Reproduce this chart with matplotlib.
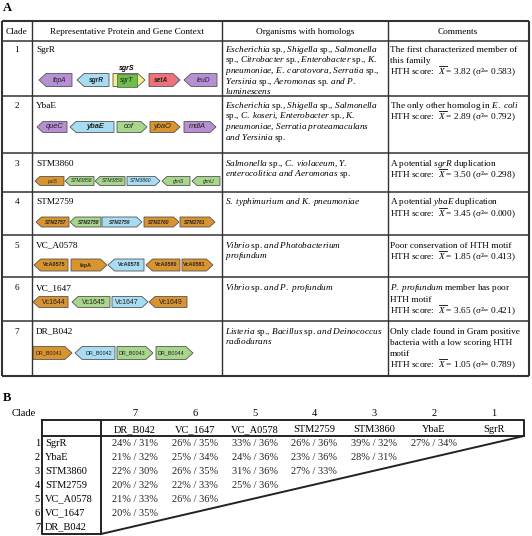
import matplotlib
matplotlib.use("Agg")
import matplotlib.pyplot as plt
from matplotlib.patches import Polygon, Rectangle

plt.rcParams['mathtext.fontset'] = 'custom'
plt.rcParams['mathtext.rm'] = 'Liberation Serif'
plt.rcParams['mathtext.it'] = 'Liberation Serif:italic'
plt.rcParams['mathtext.bf'] = 'Liberation Serif:bold'
SERIF = 'Liberation Serif'
SANS = 'Liberation Sans'

# ---------------- panel A data ----------------
clades = ['1', '2', '3', '4', '5', '6', '7']
proteins = ['SgrR', 'YbaE', 'STM3860', 'STM2759', 'VC_A0578', 'VC_1647', 'DR_B042']

# '*' toggles italics
organisms = [
    ["*Escherichia* sp., *Shigella* sp., *Salmonella*",
     "sp., *Citrobacter* sp., *Enterobacter* sp., *K.*",
     "*pneumoniae, E. carotovora, Serratia* sp.,",
     "*Yersinia* sp., *Aeromonas* sp. *and P.*",
     "*luminescens*"],
    ["*Escherichia* sp., *Shigella* sp., *Salmonella*",
     "sp., *C. koseri, Enterobacter* sp., *K.*",
     "*pneumoniae, Serratia proteamaculans*",
     "*and Yersinia* sp."],
    ["*Salmonella* sp., *C. violaceum, Y.*",
     "*enterocolitica and Aeromonas* sp."],
    ["*S. typhimurium and K. pneumoniae*"],
    ["*Vibrio* sp. *and Photobacterium*", "*profundum*"],
    ["*Vibrio* sp. *and P. profundum*"],
    ["*Listeria* sp., *Bacillus* sp. *and Deinococcus*", "*radiodurans*"],
]

comments = [
    ["The first characterized member of", "this family"],
    ["The only other homolog in *E. coli*"],
    ["A potential *sgrR* duplication"],
    ["A potential *ybaE* duplication"],
    ["Poor conservation of HTH motif"],
    ["*P. profundum* member has poor", "HTH motif"],
    ["Only clade found in Gram positive", "bacteria with a low scoring HTH", "motif"],
]
hth_mean = [3.82, 2.89, 3.50, 3.45, 1.85, 3.65, 1.05]
hth_var = [0.583, 0.792, 0.298, 0.000, 0.413, 0.421, 0.789]

# gene context: (name, start, end, strand, family)
genes = [
    [('tbpA', 39, 72, -1, 'p'), ('sgrR', 77, 109, -1, 'b'), ('sgrT', 113, 145, 1, 'y'),
     ('setA', 149, 180, 1, 'r'), ('leuD', 184, 217, -1, 'p')],
    [('queC', 37, 67, -1, 'p'), ('ybaE', 70, 114, -1, 'b'), ('cof', 117, 147, 1, 'g'),
     ('ybaO', 150, 180, 1, 'o'), ('mdlA', 184, 216, 1, 'p')],
    [('pstS', 35, 64, -1, 'o'), ('STM3858', 65, 94, -1, 'g'), ('STM3859', 95, 125, -1, 'g'),
     ('STM3860', 127, 160, 1, 'b'), ('glmS', 162, 190, -1, 'g'), ('glmU', 192, 220, -1, 'g')],
    [('STM2757', 36, 69, -1, 'o'), ('STM2758', 70, 101, -1, 'g'), ('STM2759', 102, 142, 1, 'b'),
     ('STM2760', 144, 179, 1, 'o'), ('STM2761', 180, 215, 1, 'o')],
    [('VcA0575', 34, 68, -1, 'o'), ('fepA', 71, 107, 1, 'o'), ('VcA0578', 108, 144, -1, 'b'),
     ('VcA0580', 146, 180, -1, 'o'), ('VcA0581', 182, 213, 1, 'o')],
    [('Vc1644', 33, 68, -1, 'o'), ('Vc1645', 72, 110, -1, 'g'), ('Vc1647', 112, 148, 1, 'b'),
     ('Vc1649', 149, 187, -1, 'o')],
    [('DR_B0041', 33, 72, 1, 'o'), ('DR_B0042', 75, 115, -1, 'b'), ('DR_B0043', 117, 153, 1, 'g'),
     ('DR_B0044', 156, 193, 1, 'g')],
]

# ---------------- panel B data ----------------
b_names = ['SgrR', 'YbaE', 'STM3860', 'STM2759', 'VC_A0578', 'VC_1647', 'DR_B042']
# identity / similarity, rows = clade 1..6, columns = clade 7, 6, 5, ...
ident_a = [[24, 26, 33, 26, 39, 27],
           [21, 25, 24, 23, 28],
           [22, 26, 31, 27],
           [20, 22, 25],
           [21, 26],
           [20]]
ident_b = [[31, 35, 36, 36, 32, 34],
           [32, 34, 36, 36, 31],
           [30, 35, 36, 33],
           [32, 33, 36],
           [33, 36],
           [35]]

# ---------------- styling ----------------
fam_col = {'p': '#b690d2', 'b': '#a8dcf2', 'g': '#a8d68c', 'r': '#f0707c',
           'o': '#d99430', 'y': '#f4f08c'}
row_lines = [21, 41, 96, 153, 192, 235, 277, 321, 376]
col_lines = [2, 32, 222, 388, 529]
label_y = [48, 104, 162, 201, 244, 287, 330]
gene_y = [80, 127, 181, 222, 265, 302, 353]
gene_h = [13, 11, 9, 10, 12, 11, 13]
gene_fs = [4.8, 5.4, 3.6, 3.6, 3.9, 5.0, 3.9]
gene_st = ['italic', 'italic', 'italic', 'italic', 'normal', 'normal', 'normal']
bold_rows = [3, 4]
bold_genes = ['sgrR', 'setA', 'ybaE']
FS = 6.7
FSB = 7.5
LINE = 10.7
CLINE = 11.2

fig = plt.figure(figsize=(5.32, 5.36), dpi=100)
ax = fig.add_axes([0, 0, 1, 1])
ax.set_xlim(0, 532)
ax.set_ylim(536, 0)
ax.axis('off')
renderer = fig.canvas.get_renderer()


def to_math(s):
    parts = s.split('*')
    out = ''
    for i, p in enumerate(parts):
        if i % 2 and p:
            chunks = [r'$\mathit{' + c.replace(' ', r'\ ') + '}$' for c in p.split(', ')]
            out += ', '.join(chunks)
        else:
            out += p
    return out


def text_width(s):
    t = ax.text(0, 0, s, fontsize=FS, family=SERIF)
    w = t.get_window_extent(renderer).width
    t.remove()
    return w


def gene(x0, x1, yc, h, strand, fc):
    head = min(h * 0.55, (x1 - x0) * 0.4)
    top, bot = yc - h / 2, yc + h / 2
    if strand > 0:
        pts = [(x0, top), (x1 - head, top), (x1, yc), (x1 - head, bot), (x0, bot)]
    else:
        pts = [(x1, top), (x0 + head, top), (x0, yc), (x0 + head, bot), (x1, bot)]
    ax.add_patch(Polygon(pts, closed=True, fc=fc, ec='#555555', lw=0.6))
    return head


ax.text(3, 8, 'A', fontsize=9, family=SERIF, weight='bold', va='center', ha='left')

# table lines
for y in row_lines:
    ax.plot([col_lines[0], col_lines[-1]], [y, y], color='#333333',
            lw=1.5 if y in (row_lines[0], row_lines[-1]) else 1.1, solid_capstyle='butt')
for x in col_lines:
    ax.plot([x, x], [row_lines[0], row_lines[-1]], color='#333333',
            lw=1.5 if x in (col_lines[0], col_lines[-1]) else 1.0, solid_capstyle='butt')

hy = (row_lines[0] + row_lines[1]) / 2 + 3.5
ax.text(17, hy, 'Clade', fontsize=FS, family=SERIF, ha='center', va='baseline')
ax.text(127, hy, 'Representative Protein and Gene Context', fontsize=FS, family=SERIF,
        ha='center', va='baseline')
ax.text(305, hy, 'Organisms with homologs', fontsize=FS, family=SERIF, ha='center', va='baseline')
ax.text(458, hy, 'Comments', fontsize=FS, family=SERIF, ha='center', va='baseline')

# position of the bar over X in the HTH line
w_pre = text_width(r'HTH score:  $\mathit{X}$')
w_x = text_width(r'$\mathit{X}$')

for r in range(7):
    yb = label_y[r] + 3.5
    ax.text(17, yb, clades[r], fontsize=FS, family=SERIF, ha='center', va='baseline')
    ax.text(36, yb, proteins[r], fontsize=FS, family=SERIF, ha='left', va='baseline')
    for k, line in enumerate(organisms[r]):
        ax.text(225, yb + k * LINE, to_math(line), fontsize=FS, family=SERIF,
                ha='left', va='baseline')
    lines = comments[r]
    for k, line in enumerate(lines):
        ax.text(390, yb + k * CLINE, to_math(line), fontsize=FS, family=SERIF,
                ha='left', va='baseline')
    hy_r = yb + len(lines) * CLINE
    hth = r'HTH score:  $\mathit{X}$ = %.2f (σ²= %.3f)' % (hth_mean[r], hth_var[r])
    ax.text(390, hy_r, hth, fontsize=FS, family=SERIF, ha='left', va='baseline')
    ax.plot([390 + w_pre - w_x + 0.8, 390 + w_pre + 0.6], [hy_r - 7.8, hy_r - 7.8],
            color='black', lw=0.6)

    for name, x0, x1, strand, fam in genes[r]:
        h = gene_h[r]
        head = gene(x0, x1, gene_y[r], h, strand, fam_col[fam])
        cx = (x0 + x1 - head) / 2 if strand > 0 else (x0 + head + x1) / 2
        if fam == 'y':
            ax.add_patch(Rectangle((x0 + 4, gene_y[r] - h / 2), 20, h, fc='#6cbf48',
                                   ec='#555555', lw=0.5))
            cx = x0 + 14
            ax.text(cx, gene_y[r] - h / 2 - 4.5, 'sgrS', fontsize=5, family=SANS, style='italic',
                    weight='bold', ha='center', va='center')
        wt = 'bold' if (r in bold_rows or name in bold_genes) else 'normal'
        ax.text(cx, gene_y[r], name, fontsize=gene_fs[r], family=SANS, style=gene_st[r],
                weight=wt, ha='center', va='center', color='#222222')

# ---------------- panel B ----------------
ax.text(3, 398, 'B', fontsize=9, family=SERIF, weight='bold', va='center', ha='left')
ax.text(36, 416, 'Clade', fontsize=FSB, family=SERIF, ha='right', va='baseline')
bx0, bx1, bdiv = 42, 524, 101
by0, by1, bbot = 420, 436, 534
col_x = [135 + 59.8 * k for k in range(7)]
row_y = [443, 457, 471, 485, 498, 512, 526]

ax.plot([bx0, bx1, bx1], [by0, by0, by1], color='#222222', lw=1.4)
ax.plot([bx0, bx1], [by1, by1], color='#222222', lw=1.4)
ax.plot([bx0, bx0, bdiv], [by0, bbot, bbot], color='#222222', lw=1.4)
ax.plot([bdiv, bdiv], [by0, bbot], color='#222222', lw=1.4)
ax.plot([bx1, bdiv], [by1, bbot], color='#222222', lw=1.4)

for k in range(7):
    cl = 7 - k
    ax.text(col_x[k], 416, str(cl), fontsize=FSB, family=SERIF, ha='center', va='baseline')
    ax.text(col_x[k], 432, b_names[cl - 1], fontsize=FSB, family=SERIF, ha='center', va='baseline')

for i in range(7):
    ax.text(40, row_y[i] + 3.5, str(i + 1), fontsize=FSB, family=SERIF, ha='right', va='baseline')
    ax.text(45, row_y[i] + 3.5, b_names[i], fontsize=FSB, family=SERIF, ha='left', va='baseline')
    if i < len(ident_a):
        for k in range(len(ident_a[i])):
            ax.text(col_x[k], row_y[i] + 3.5, '%d%% / %d%%' % (ident_a[i][k], ident_b[i][k]),
                    fontsize=FSB, family=SERIF, ha='center', va='baseline', color='#222222')

fig.savefig('out.png', dpi=100)
